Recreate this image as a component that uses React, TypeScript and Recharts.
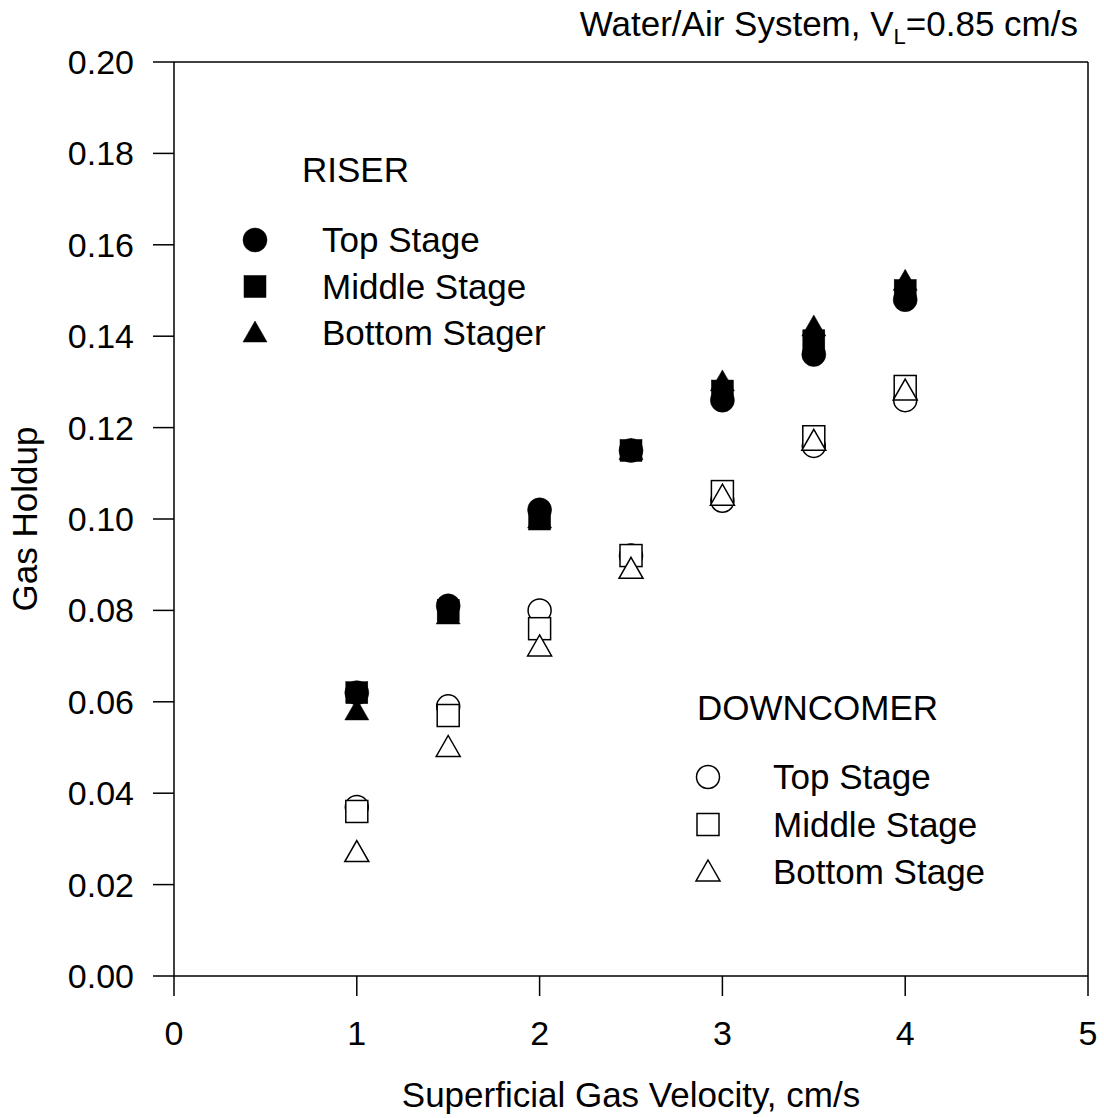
import React from 'react';
import {
  ReferenceLine,
  Scatter,
  ScatterChart,
  XAxis,
  YAxis,
} from 'recharts';

const velocities = [1, 1.5, 2, 2.5, 3, 3.5, 4];

const riserTop = [0.062, 0.081, 0.102, 0.115, 0.126, 0.136, 0.148];
const riserMiddle = [0.062, 0.08, 0.1, 0.115, 0.128, 0.139, 0.15];
const riserBottom = [0.058, 0.079, 0.1, 0.115, 0.13, 0.142, 0.152];

const downTop = [0.037, 0.059, 0.08, 0.092, 0.104, 0.116, 0.126];
const downMiddle = [0.036, 0.057, 0.076, 0.092, 0.106, 0.118, 0.129];
const downBottom = [0.027, 0.05, 0.072, 0.089, 0.105, 0.117, 0.128];

const xTicks = [0, 1, 2, 3, 4, 5];
const yTicks = [0, 0.02, 0.04, 0.06, 0.08, 0.1, 0.12, 0.14, 0.16, 0.18, 0.2];

const toPoints = (ys: number[]) => velocities.map((x, i) => ({ x, y: ys[i] }));

const FONT = '"Liberation Sans", Arial, sans-serif';

type Kind = 'circle' | 'square' | 'triangle';

const Marker = ({ cx, cy, kind, filled }: { cx: number; cy: number; kind: Kind; filled: boolean }) => {
  const fill = filled ? '#000' : '#fff';
  const stroke = '#000';
  const sw = filled ? 0.5 : 1.5;
  if (kind === 'circle') {
    return <circle cx={cx} cy={cy} r={filled ? 12 : 11.5} fill={fill} stroke={stroke} strokeWidth={sw} />;
  }
  if (kind === 'square') {
    const h = 11;
    return <rect x={cx - h} y={cy - h} width={h * 2} height={h * 2} fill={fill} stroke={stroke} strokeWidth={sw} />;
  }
  const w = 12;
  const pts = `${cx},${cy - 12} ${cx + w},${cy + 9} ${cx - w},${cy + 9}`;
  return <polygon points={pts} fill={fill} stroke={stroke} strokeWidth={sw} />;
};

const shapeOf = (kind: Kind, filled: boolean) => (props: any) =>
  <Marker cx={props.cx} cy={props.cy} kind={kind} filled={filled} />;

const YLabel = () => (
  <text x={37} y={519} transform="rotate(-90 37 519)" textAnchor="middle" fontSize={35} fontFamily={FONT} fill="#000">
    Gas Holdup
  </text>
);

const riserLegend = [
  { label: 'Top Stage', kind: 'circle' as Kind },
  { label: 'Middle Stage', kind: 'square' as Kind },
  { label: 'Bottom Stager', kind: 'triangle' as Kind },
];
const downLegend = [
  { label: 'Top Stage', kind: 'circle' as Kind },
  { label: 'Middle Stage', kind: 'square' as Kind },
  { label: 'Bottom Stage', kind: 'triangle' as Kind },
];

const App = () => {
  return (
    <div style={{ position: 'absolute', left: 0, top: 0, width: 1104, height: 1118 }}>
      <ScatterChart width={1104} height={1118} margin={{ top: 62, right: 16, bottom: 0, left: 0 }}>
        <XAxis
          type="number"
          dataKey="x"
          domain={[0, 5]}
          ticks={xTicks}
          height={142}
          tickSize={20}
          tickMargin={25}
          axisLine={{ stroke: '#000', strokeWidth: 1.5 }}
          tickLine={{ stroke: '#000', strokeWidth: 1.5 }}
          tick={{ fill: '#000', fontSize: 34, fontFamily: FONT }}
          label={{
            value: 'Superficial Gas Velocity, cm/s',
            position: 'insideBottom',
            offset: 11,
            fill: '#000',
            fontSize: 35,
            fontFamily: FONT,
          }}
        />
        <YAxis
          type="number"
          dataKey="y"
          domain={[0, 0.2]}
          ticks={yTicks}
          width={174}
          tickSize={21}
          tickMargin={19}
          tickFormatter={(v: number) => v.toFixed(2)}
          axisLine={{ stroke: '#000', strokeWidth: 1.5 }}
          tickLine={{ stroke: '#000', strokeWidth: 1.5 }}
          tick={{ fill: '#000', fontSize: 34, fontFamily: FONT }}
          label={{ content: () => <YLabel /> }}
        />
        <ReferenceLine y={0.2} stroke="#000" strokeWidth={1.5} />
        <ReferenceLine x={5} stroke="#000" strokeWidth={1.5} />
        <Scatter data={toPoints(riserTop)} shape={shapeOf('circle', true)} isAnimationActive={false} />
        <Scatter data={toPoints(riserMiddle)} shape={shapeOf('square', true)} isAnimationActive={false} />
        <Scatter data={toPoints(riserBottom)} shape={shapeOf('triangle', true)} isAnimationActive={false} />
        <Scatter data={toPoints(downTop)} shape={shapeOf('circle', false)} isAnimationActive={false} />
        <Scatter data={toPoints(downMiddle)} shape={shapeOf('square', false)} isAnimationActive={false} />
        <Scatter data={toPoints(downBottom)} shape={shapeOf('triangle', false)} isAnimationActive={false} />
      </ScatterChart>
      <svg
        width={1104}
        height={1118}
        style={{ position: 'absolute', left: 0, top: 0, pointerEvents: 'none' }}
        fontFamily={FONT}
        fontSize={35}
      >
        <text x={1078} y={36} textAnchor="end" fill="#000">
          Water/Air System, V<tspan fontSize={22} dy={8}>L</tspan>
          <tspan dy={-8}>=0.85 cm/s</tspan>
        </text>
        <text x={302} y={182} fill="#000">RISER</text>
        {riserLegend.map((item, i) => (
          <g key={item.label}>
            <Marker cx={255} cy={240 + i * 46.5} kind={item.kind} filled />
            <text x={322} y={252 + i * 46.5} fill="#000">{item.label}</text>
          </g>
        ))}
        <text x={697} y={720} fill="#000">DOWNCOMER</text>
        {downLegend.map((item, i) => (
          <g key={item.label}>
            <Marker cx={708} cy={777 + i * 47.5} kind={item.kind} filled={false} />
            <text x={773} y={789 + i * 47.5} fill="#000">{item.label}</text>
          </g>
        ))}
      </svg>
    </div>
  );
};

export default App;
